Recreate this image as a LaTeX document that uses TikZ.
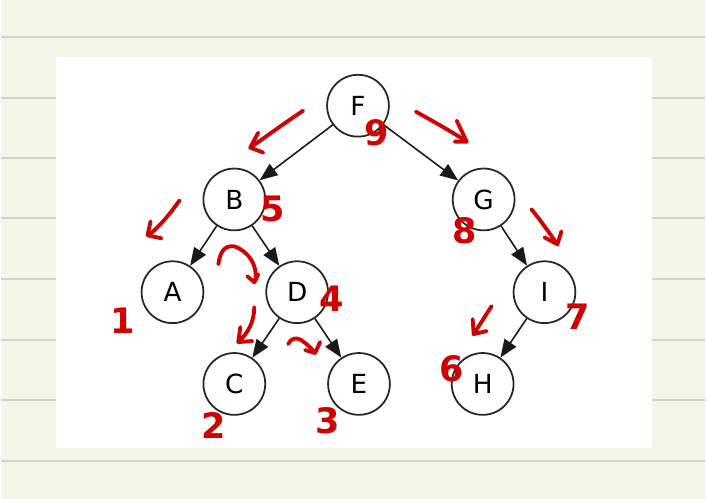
\documentclass[tikz,border=0pt]{standalone}
\usepackage{fontspec}
\setmainfont{DejaVu Sans}
\usepackage{xcolor}
\usetikzlibrary{arrows.meta}
\definecolor{paper}{RGB}{245,246,234}
\definecolor{ruling}{RGB}{210,210,206}
\definecolor{ink}{RGB}{208,0,0}

\begin{document}
\begin{tikzpicture}[
  x=0.02cm, y=-0.02cm,
  vertex/.style={draw=black!85,circle,line width=1pt,minimum size=1.24cm,inner sep=0pt,font=\fontsize{15}{15}\selectfont},
  edge/.style={draw=black!90,line width=0.9pt,-{Triangle[length=3.6mm,width=2.8mm]}},
  pen/.style={draw=ink,line width=2.2pt,line cap=round,line join=round},
  num/.style={text=ink,inner sep=0pt,font=\fontsize{20}{20}\selectfont\bfseries}
]
\fill[paper] (0,0) rectangle (706,500);
\foreach \y in {37,98,158,219,280,341,401,462}
  \draw[ruling,line width=1.1pt] (0,\y) -- (706,\y);
\fill[white] (55,57) rectangle (653,449);

\node[vertex] (f) at (358,106) {F};
\node[vertex] (b) at (234,200) {B};
\node[vertex] (g) at (484,200) {G};
\node[vertex] (a) at (172,293) {A};
\node[vertex] (d) at (297,293) {D};
\node[vertex] (i) at (545,293) {I};
\node[vertex] (c) at (234,385) {C};
\node[vertex] (e) at (359,385) {E};
\node[vertex] (h) at (483,385) {H};

\draw[edge] (f) -- (b);
\draw[edge] (f) -- (g);
\draw[edge] (b) -- (a);
\draw[edge] (b) -- (d);
\draw[edge] (d) -- (c);
\draw[edge] (d) -- (e);
\draw[edge] (g) -- (i);
\draw[edge] (i) -- (h);

\draw[pen] (303,111) .. controls (282,125) and (266,137) .. (250,148);
\draw[pen] (258,133) -- (250,148) -- (263,153);
\draw[pen] (179,201) .. controls (170,214) and (160,226) .. (148,236);
\draw[pen] (150,222) -- (147,236) -- (161,239);
\draw[pen] (416,112) .. controls (434,122) and (452,132) .. (467,142);
\draw[pen] (457,121) -- (467,142) -- (455,142);
\draw[pen] (532,210) .. controls (542,222) and (550,234) .. (558,245);
\draw[pen] (562,232) -- (558,245) -- (545,238);
\draw[pen] (218,265) .. controls (220,250) and (226,246) .. (234,247) .. controls (248,252) and (258,266) .. (255,282);
\draw[pen] (247,277) -- (254,283) -- (258,275);
\draw[pen] (254,308) .. controls (254,322) and (248,334) .. (238,343);
\draw[pen] (240,328) -- (238,343) -- (252,342);
\draw[pen] (288,345) .. controls (291,339) and (296,338) .. (301,341) .. controls (307,345) and (311,349) .. (315,354);
\draw[pen] (320,343) -- (315,354) -- (305,351);
\draw[pen] (492,307) .. controls (486,316) and (480,326) .. (474,335);
\draw[pen] (473,320) -- (474,335) -- (487,332);

\node[num] (n1) at (122,322) {1};
\node[num] (n2) at (213,427) {2};
\node[num] (n3) at (328,422) {3};
\node[num] (n4) at (332,300) {4};
\node[num] (n5) at (272,210) {5};
\node[num] (n6) at (452,370) {6};
\node[num] (n7) at (578,318) {7};
\node[num] (n8) at (465,231) {8};
\node[num] (n9) at (377,133) {9};
\end{tikzpicture}
\end{document}
